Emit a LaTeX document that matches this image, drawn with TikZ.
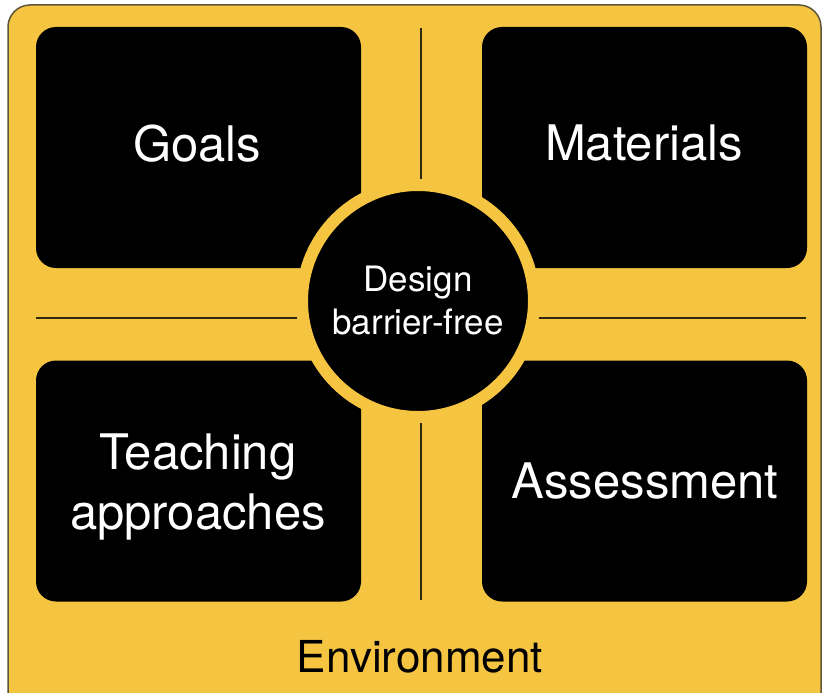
\documentclass[tikz,border=0pt]{standalone}
\usepackage{fontspec}
\setmainfont{TeX Gyre Heros}
\definecolor{ybg}{RGB}{245,197,66}
\definecolor{framec}{RGB}{95,85,60}
\definecolor{sepc}{RGB}{50,38,12}
\begin{document}
\begin{tikzpicture}[x=1pt,y=-1pt,
  box/.style={fill=black, rounded corners=20pt, minimum width=325pt, minimum height=241pt, inner sep=0pt},
  boxtext/.style={text=white, align=center, font=\fontsize{49}{60}\selectfont},
  sepline/.style={draw=sepc, line width=2pt},
  hub/.style={circle, fill=black, draw=ybg, line width=12pt, minimum size=232pt,
    inner sep=0pt, text=white, align=center, font=\fontsize{35}{43}\selectfont},
  envlabel/.style={text=black, font=\fontsize{44}{50}\selectfont}]
\useasboundingbox (0,0) rectangle (822,693);
\fill[white] (0,0) rectangle (822,693);
\begin{scope}
  \clip (0,0) rectangle (822,693);
  \draw[fill=ybg, draw=framec, line width=1.5pt, rounded corners=22pt] (8,5) rectangle (821,730);
\end{scope}
\coordinate (vt) at (421,28);
\coordinate (vb) at (421,600);
\coordinate (hl) at (36,318);
\coordinate (hr) at (806,318);
\draw[sepline] (vt) -- (vb);
\draw[sepline] (hl) -- (hr);
\node[box] (goals) at (198.5,147.5) {};
\node[box] (materials) at (644.5,147.5) {};
\node[box] (teaching) at (198.5,481) {};
\node[box] (assessment) at (644.5,481) {};
\node[boxtext] (goalsT) at (197,143.5) {Goals};
\node[boxtext] (materialsT) at (644,143.5) {Materials};
\node[boxtext] (teachingT) at (198,487) {Teaching\\approaches};
\node[boxtext] (assessmentT) at (645,481) {Assessment};
\node[hub] (design) at (418,301) {Design\\barrier-free};
\node[envlabel] (env) at (420,657) {Environment};
\end{tikzpicture}
\end{document}
